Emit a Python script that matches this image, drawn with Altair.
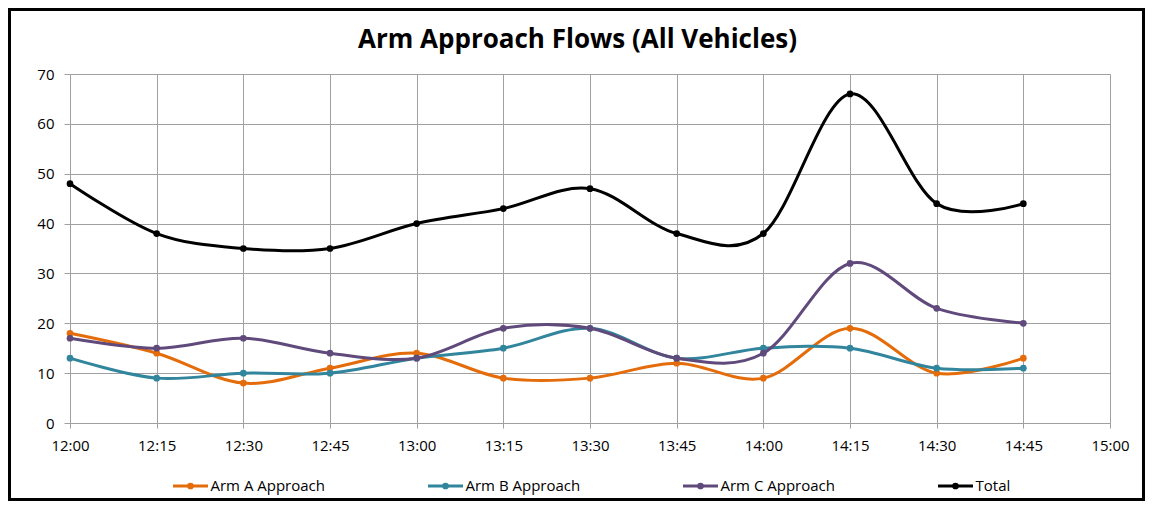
import json
import altair as alt
import pandas as pd

# ---- data ----
times = ["12:00", "12:15", "12:30", "12:45", "13:00", "13:15",
         "13:30", "13:45", "14:00", "14:15", "14:30", "14:45"]
arm_a = [18, 14, 8, 11, 14, 9, 9, 12, 9, 19, 10, 13]
arm_b = [13, 9, 10, 10, 13, 15, 19, 13, 15, 15, 11, 11]
arm_c = [17, 15, 17, 14, 13, 19, 19, 13, 14, 32, 23, 20]
total = [48, 38, 35, 35, 40, 43, 47, 38, 38, 66, 44, 44]
tick_labels = ["12:00", "12:15", "12:30", "12:45", "13:00", "13:15", "13:30",
               "13:45", "14:00", "14:15", "14:30", "14:45", "15:00"]
series_names = ["Arm A Approach", "Arm B Approach", "Arm C Approach", "Total"]
series_colors = ["#E46C0A", "#31859C", "#604A7B", "#000000"]
title_text = ["Arm Approach Flows (All Vehicles)"]

FONT = "Open Sans"
W, H = 1040, 349
PAD = {"left": 62, "top": 66, "right": 35, "bottom": 78}


def to_min(t):
    h, m = t.split(":")
    return (int(h) - 12) * 60 + int(m)


rows = []
for name, vals in zip(series_names, [arm_a, arm_b, arm_c, total]):
    for t, v in zip(times, vals):
        rows.append({"series": name, "t": to_min(t), "value": v})
df = pd.DataFrame(rows)
legend_df = pd.DataFrame({"series": series_names})
title_df = pd.DataFrame({"title": title_text})

tick_vals = [to_min(t) for t in tick_labels]
label_expr = json.dumps(tick_labels) + "[round(datum.value / 15)]"

color = alt.Color("series:N",
                  scale=alt.Scale(domain=series_names, range=series_colors),
                  legend=None)

x_scale = alt.Scale(domain=[0, 180], nice=False, zero=False)
y_scale = alt.Scale(domain=[0, 70], nice=False)
x_enc = alt.X("t:Q", scale=x_scale,
              axis=alt.Axis(values=tick_vals, labelExpr=label_expr, title=None,
                            grid=True, gridColor="#A0A0A0", gridWidth=1,
                            domainColor="#A0A0A0", tickColor="#A0A0A0",
                            tickSize=5, labelPadding=10, labelFontSize=15,
                            labelFlush=False, labelOverlap=False,
                            labelFont=FONT, labelColor="#000000"))
y_enc = alt.Y("value:Q", scale=y_scale,
              axis=alt.Axis(values=list(range(0, 71, 10)), title=None,
                            grid=True, gridColor="#A0A0A0", gridWidth=1,
                            domainColor="#A0A0A0", tickColor="#A0A0A0",
                            tickSize=6, labelPadding=10, labelFontSize=15,
                            labelFlush=False, labelOverlap=False,
                            labelFont=FONT, labelColor="#000000"))

base = alt.Chart(df)
lines = base.mark_line(interpolate="cardinal", strokeWidth=3).encode(
    x=x_enc, y=y_enc, color=color, detail="series:N")
points = base.mark_circle(size=45, opacity=1).encode(
    x=alt.X("t:Q", scale=x_scale), y=alt.Y("value:Q", scale=y_scale), color=color)
main = alt.layer(lines, points)

# ---- manual legend ----
lx = alt.X("series:N", scale=alt.Scale(domain=series_names, range=[120.5, 885.5],
                                       type="point", padding=0), axis=None)
lbase = alt.Chart(legend_df)
leg_tick = lbase.mark_tick(orient="horizontal", size=35, thickness=3, opacity=1).encode(
    x=lx, y=alt.value(412), color=color)
leg_dot = lbase.mark_circle(size=45, opacity=1).encode(
    x=lx, y=alt.value(412), color=color)
leg_text = lbase.mark_text(align="left", baseline="middle", dx=20, fontSize=15,
                           font=FONT, color="#000000").encode(
    x=lx, y=alt.value(412), text="series:N")
legend = alt.layer(leg_tick, leg_dot, leg_text)

title = alt.Chart(title_df).mark_text(
    align="center", baseline="middle", font=FONT, fontSize=26, fontWeight="bold",
    color="#000000").encode(x=alt.value(W / 2 - 12.5), y=alt.value(-34), text="title:N")

border = alt.Chart(title_df).mark_rect(
    fill=None, stroke="#000000", strokeWidth=3, clip=False).encode(
    x=alt.value(-PAD["left"] + 1.5), x2=alt.value(W + PAD["right"] - 1.5),
    y=alt.value(-PAD["top"] + 1.5), y2=alt.value(H + PAD["bottom"] - 1.5))

chart = alt.layer(main, legend, title, border).resolve_scale(x="independent").properties(
    width=W, height=H,
    padding=PAD,
    autosize=alt.AutoSizeParams(type="none"),
).configure_view(strokeWidth=0).configure(background="white")

chart.save("out.html", embed_options={"renderer": "svg", "actions": False})
